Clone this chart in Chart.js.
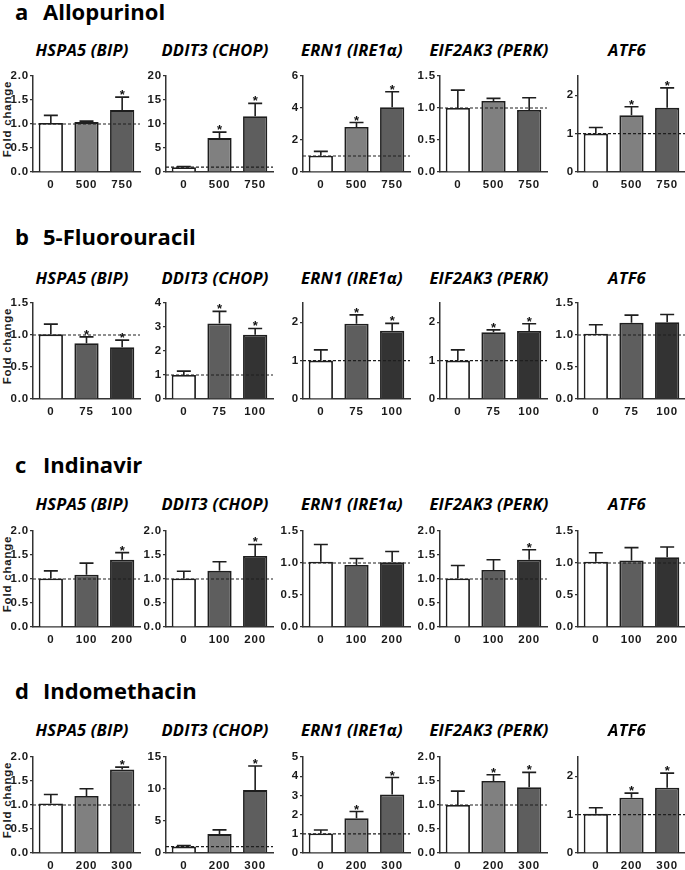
<!DOCTYPE html>
<html>
<head>
<meta charset="utf-8">
<script src="https://cdn.jsdelivr.net/npm/chart.js@4.4.1/dist/chart.umd.min.js"></script>
<style>
  html, body { margin: 0; padding: 0; background: #fff; overflow: hidden; }
  #fig { position: relative; width: 685px; height: 870px; }
  .row-title { position: absolute; font: bold 22px "Open Sans", sans-serif; line-height: 24px; color: #000; white-space: nowrap; }
  .gene { position: absolute; width: 150px; text-align: center; font: italic bold 16.5px "Open Sans", sans-serif; line-height: 18px; letter-spacing: 0.2px; color: #000; white-space: nowrap; }
  .ytitle { position: absolute; width: 100px; text-align: center; font: bold 11.5px "Liberation Sans", Arial, sans-serif; line-height: 12px; letter-spacing: 0.8px; color: #1a1a1a; transform: rotate(-90deg); white-space: nowrap; }
  canvas { position: absolute; }
</style>
</head>
<body>
<div id="fig"></div>
<script>
const panelLetters = ['a', 'b', 'c', 'd']
const drugs = ['Allopurinol', '5-Fluorouracil', 'Indinavir', 'Indomethacin']
const genes = ['HSPA5 (BIP)', 'DDIT3 (CHOP)', 'ERN1 (IRE1\u03b1)', 'EIF2AK3 (PERK)', 'ATF6']

// doses (x categories) per drug
const allopurinolDoses = ['0', '500', '750']
const fluorouracilDoses = ['0', '75', '100']
const indinavirDoses = ['0', '100', '200']
const indomethacinDoses = ['0', '200', '300']

// fold change means, one row per gene
const allopurinolMeans = [[1.02, 1.04, 1.29], [1.0, 7.06, 11.6], [1.02, 2.82, 4.05], [1.0, 1.11, 0.97], [1.0, 1.48, 1.67]]
const fluorouracilMeans = [[1.01, 0.87, 0.81], [1.0, 3.15, 2.68], [1.0, 1.96, 1.78], [1.0, 1.74, 1.77], [1.02, 1.19, 1.2]]
const indinavirMeans = [[1.01, 1.09, 1.4], [1.01, 1.17, 1.48], [1.02, 0.97, 1.01], [1.01, 1.19, 1.4], [1.02, 1.04, 1.09]]
const indomethacinMeans = [[1.03, 1.19, 1.74], [1.0, 2.95, 9.83], [1.02, 1.81, 3.05], [1.0, 1.5, 1.37], [1.02, 1.44, 1.7]]

// upper error bars (SD)
const allopurinolErrors = [[0.16, 0.02, 0.27], [0.15, 1.24, 2.7], [0.27, 0.27, 0.97], [0.28, 0.04, 0.19], [0.16, 0.22, 0.52]]
const fluorouracilErrors = [[0.16, 0.1, 0.11], [0.16, 0.5, 0.26], [0.28, 0.23, 0.19], [0.28, 0.06, 0.19], [0.14, 0.12, 0.12]]
const indinavirErrors = [[0.16, 0.24, 0.15], [0.15, 0.19, 0.24], [0.27, 0.1, 0.17], [0.27, 0.21, 0.21], [0.14, 0.2, 0.16]]
const indomethacinErrors = [[0.19, 0.15, 0.05], [0.15, 0.67, 3.77], [0.18, 0.35, 0.88], [0.29, 0.13, 0.31], [0.16, 0.12, 0.38]]

// significance marks
const allopurinolStars = [[0, 0, 1], [0, 1, 1], [0, 1, 1], [0, 0, 0], [0, 1, 1]]
const fluorouracilStars = [[0, 1, 1], [0, 1, 1], [0, 1, 1], [0, 1, 1], [0, 0, 0]]
const indinavirStars = [[0, 0, 1], [0, 0, 1], [0, 0, 0], [0, 0, 1], [0, 0, 0]]
const indomethacinStars = [[0, 0, 1], [0, 0, 1], [0, 1, 1], [0, 1, 1], [0, 1, 1]]

// y axis ranges
const allopurinolAxisMax = [2, 20, 6, 1.5, 2.5]
const fluorouracilAxisMax = [1.5, 4, 2.5, 2.5, 1.5]
const indinavirAxisMax = [2, 2, 1.5, 2, 1.5]
const indomethacinAxisMax = [2, 15, 5, 2, 2.5]
const allopurinolAxisStep = [0.5, 5, 2, 0.5, 1]
const fluorouracilAxisStep = [0.5, 1, 1, 1, 0.5]
const indinavirAxisStep = [0.5, 0.5, 0.5, 0.5, 0.5]
const indomethacinAxisStep = [0.5, 5, 1, 0.5, 1]

const rows = [
  { doses: allopurinolDoses, means: allopurinolMeans, errors: allopurinolErrors, stars: allopurinolStars, max: allopurinolAxisMax, step: allopurinolAxisStep, colors: ['#ffffff', '#808080', '#5e5e5e'] },
  { doses: fluorouracilDoses, means: fluorouracilMeans, errors: fluorouracilErrors, stars: fluorouracilStars, max: fluorouracilAxisMax, step: fluorouracilAxisStep, colors: ['#ffffff', '#5e5e5e', '#333333'] },
  { doses: indinavirDoses, means: indinavirMeans, errors: indinavirErrors, stars: indinavirStars, max: indinavirAxisMax, step: indinavirAxisStep, colors: ['#ffffff', '#5e5e5e', '#333333'] },
  { doses: indomethacinDoses, means: indomethacinMeans, errors: indomethacinErrors, stars: indomethacinStars, max: indomethacinAxisMax, step: indomethacinAxisStep, colors: ['#ffffff', '#808080', '#5e5e5e'] }
]

// layout (px)
const axisX = [33, 166, 303, 440, 578]
const plotTop = [76, 303, 531, 757]
const rowTitleY = [10.5, 236, 464, 690]
const geneTitleY = [50, 278, 504, 730]

const ink = '#1e1e1e'
const tickFont = { family: '"Liberation Sans", Arial, sans-serif', size: 11.5, weight: 'bold', lineHeight: 1.2 }

const spacing = {
  id: 'spacing',
  beforeDraw(chart) { chart.ctx.letterSpacing = '0.8px' }
}

const refLine = {
  id: 'refLine',
  afterDatasetsDraw(chart) {
    const { ctx, chartArea } = chart
    const y = chart.scales.y.getPixelForValue(1)
    ctx.save()
    ctx.strokeStyle = ink
    ctx.lineWidth = 1.2
    ctx.setLineDash([3, 2])
    ctx.beginPath()
    ctx.moveTo(chartArea.left, y)
    ctx.lineTo(chartArea.right, y)
    ctx.stroke()
    ctx.restore()
  }
}

const errorBars = {
  id: 'errorBars',
  afterDatasetsDraw(chart) {
    const ctx = chart.ctx
    const scale = chart.scales.y
    const ds = chart.data.datasets[0]
    chart.getDatasetMeta(0).data.forEach((bar, i) => {
      const top = scale.getPixelForValue(ds.data[i] + ds.errors[i])
      ctx.save()
      ctx.strokeStyle = ink
      ctx.lineWidth = 1.6
      ctx.beginPath()
      ctx.moveTo(bar.x, bar.y)
      ctx.lineTo(bar.x, top)
      ctx.moveTo(bar.x - 7, top)
      ctx.lineTo(bar.x + 7, top)
      ctx.stroke()
      if (ds.stars[i]) {
        ctx.letterSpacing = '0px'
        ctx.fillStyle = '#111'
        ctx.font = 'bold 13px "Liberation Sans", Arial, sans-serif'
        ctx.textAlign = 'center'
        ctx.textBaseline = 'alphabetic'
        ctx.fillText('*', bar.x, top + 2)
      }
      ctx.restore()
    })
  }
}

function createBarChart(canvas, cfg) {
  const decimals = cfg.step < 1 ? 1 : 0
  return new Chart(canvas, {
    type: 'bar',
    data: {
      labels: cfg.doses,
      datasets: [{
        data: cfg.means,
        errors: cfg.errors,
        stars: cfg.stars,
        backgroundColor: cfg.colors,
        borderColor: ink,
        borderWidth: 1.8,
        barPercentage: 0.68,
        categoryPercentage: 1
      }]
    },
    options: {
      responsive: false,
      animation: false,
      devicePixelRatio: 1,
      layout: { padding: { top: 8, right: 2, bottom: 0, left: 0 } },
      plugins: {
        legend: { display: false },
        tooltip: { enabled: false }
      },
      scales: {
        x: {
          grid: { display: false, drawTicks: false },
          border: { color: '#333', width: 1.5 },
          ticks: { padding: 6, font: tickFont, color: '#1a1a1a', maxRotation: 0, autoSkip: false },
          afterFit: s => { s.height = 22 }
        },
        y: {
          min: 0,
          max: cfg.max,
          grid: { drawOnChartArea: false, tickLength: 3, color: '#333', lineWidth: 1.2 },
          border: { color: '#333', width: 1.5 },
          ticks: {
            stepSize: cfg.step,
            includeBounds: false,
            padding: 1,
            font: tickFont,
            color: '#1a1a1a',
            callback: v => v.toFixed(decimals)
          },
          afterFit: s => { s.width = 33 }
        }
      }
    },
    plugins: [spacing, refLine, errorBars]
  })
}

const fig = document.getElementById('fig')

function addText(cls, text, left, top) {
  const el = document.createElement('div')
  el.className = cls
  el.style.left = left + 'px'
  el.style.top = top + 'px'
  el.textContent = text
  fig.appendChild(el)
}

rows.forEach((row, r) => {
  addText('row-title', panelLetters[r], 15, rowTitleY[r] - 12)
  addText('row-title', drugs[r], 43, rowTitleY[r] - 12)
  // rotated y title, centred at x 6.5 and 43 px below the plot top
  addText('ytitle', 'Fold change', 6.5 - 50, plotTop[r] + 43 - 6)

  genes.forEach((gene, g) => {
    addText('gene', gene, axisX[g] + 49 - 75, geneTitleY[r] - 9)

    const canvas = document.createElement('canvas')
    canvas.width = 142
    canvas.height = 126
    canvas.style.left = (axisX[g] - 33) + 'px'
    canvas.style.top = (plotTop[r] - 8) + 'px'
    fig.appendChild(canvas)

    createBarChart(canvas, {
      doses: row.doses,
      means: row.means[g],
      errors: row.errors[g],
      stars: row.stars[g],
      max: row.max[g],
      step: row.step[g],
      colors: row.colors
    })
  })
})
</script>
</body>
</html>
